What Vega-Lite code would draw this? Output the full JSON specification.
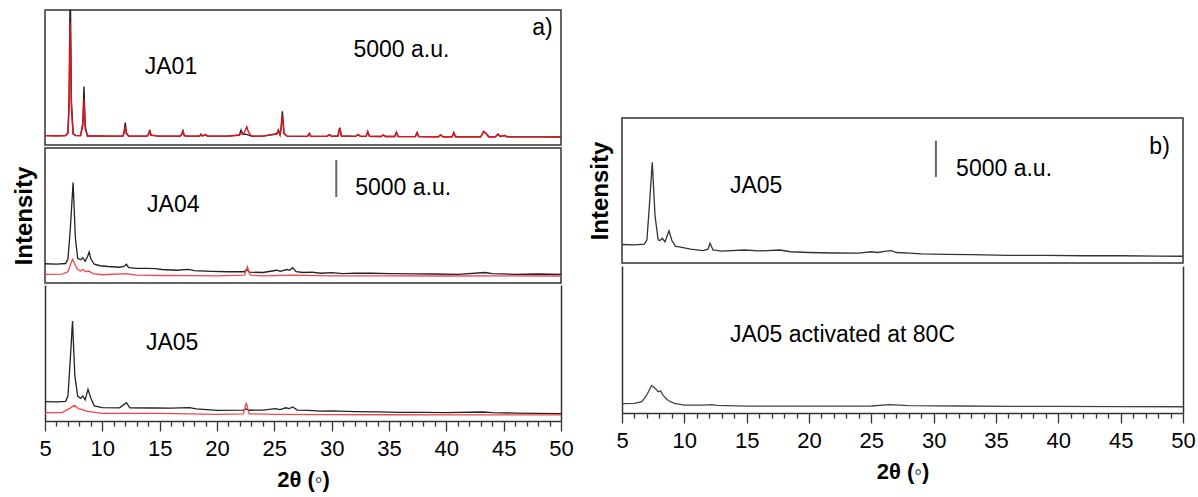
{
  "$schema": "https://vega.github.io/schema/vega-lite/v6.json",
  "padding": {"left": 11, "top": 9, "right": 5, "bottom": 5},
  "background": "white",
  "config": {
    "font": "Liberation Sans",
    "view": {"stroke": "#333", "strokeWidth": 1.5},
    "axis": {"grid": false, "domainColor": "#333", "domainWidth": 1.5, "tickColor": "#333", "tickWidth": 1.3, "labelFont": "Liberation Sans", "labelFontSize": 22, "labelColor": "#000", "titleFont": "Liberation Sans", "titleFontSize": 22, "titleFontWeight": "bold", "titleColor": "#000", "labelOverlap": false, "labelFlush": false},
    "text": {"font": "Liberation Sans", "fontSize": 23, "color": "#000", "align": "left", "baseline": "middle"}
  },
  "datasets": {
    "ja01exp": [
      {"x":5.0,"y":1250},{"x":6.0,"y":1230},{"x":6.8,"y":1250},{"x":7.0,"y":1600},{"x":7.1,"y":6000},{"x":7.2,"y":22000},{"x":7.3,"y":6000},{"x":7.45,"y":1500},{"x":7.7,"y":1250},{"x":8.1,"y":1250},{"x":8.3,"y":3000},{"x":8.4,"y":7800},{"x":8.5,"y":2500},{"x":8.7,"y":1200},{"x":9.5,"y":1200},{"x":10.5,"y":1180},{"x":11.8,"y":1200},{"x":11.9,"y":1800},{"x":12.0,"y":3000},{"x":12.1,"y":1600},{"x":12.3,"y":1180},{"x":13.9,"y":1180},{"x":14.05,"y":1500},{"x":14.13,"y":2000},{"x":14.25,"y":1300},{"x":14.6,"y":1250},{"x":14.8,"y":1180},{"x":16.8,"y":1180},{"x":16.95,"y":1500},{"x":17.03,"y":1900},{"x":17.15,"y":1250},{"x":17.4,"y":1180},{"x":18.5,"y":1200},{"x":18.6,"y":1450},{"x":18.75,"y":1200},{"x":19.0,"y":1400},{"x":19.15,"y":1200},{"x":21.0,"y":1180},{"x":21.95,"y":1350},{"x":22.1,"y":2000},{"x":22.25,"y":1400},{"x":22.5,"y":1450},{"x":22.7,"y":1350},{"x":23.0,"y":1180},{"x":24.0,"y":1180},{"x":25.2,"y":1500},{"x":25.35,"y":2000},{"x":25.5,"y":1300},{"x":25.6,"y":2500},{"x":25.7,"y":4500},{"x":25.85,"y":1500},{"x":26.1,"y":1180},{"x":27.9,"y":1150},{"x":28.05,"y":1550},{"x":28.2,"y":1150},{"x":29.6,"y":1150},{"x":29.8,"y":1380},{"x":30.0,"y":1150},{"x":30.55,"y":1200},{"x":30.7,"y":2300},{"x":30.85,"y":1200},{"x":32.1,"y":1150},{"x":32.3,"y":1400},{"x":32.5,"y":1150},{"x":33.0,"y":1150},{"x":33.15,"y":1800},{"x":33.3,"y":1150},{"x":34.3,"y":1130},{"x":34.5,"y":1330},{"x":34.7,"y":1130},{"x":35.5,"y":1130},{"x":35.65,"y":1700},{"x":35.8,"y":1130},{"x":37.3,"y":1120},{"x":37.45,"y":1650},{"x":37.6,"y":1120},{"x":39.3,"y":1100},{"x":39.5,"y":1350},{"x":39.7,"y":1100},{"x":40.5,"y":1100},{"x":40.65,"y":1650},{"x":40.8,"y":1100},{"x":43.0,"y":1100},{"x":43.25,"y":1800},{"x":43.45,"y":1550},{"x":43.7,"y":1100},{"x":44.3,"y":1100},{"x":44.5,"y":1450},{"x":44.7,"y":1150},{"x":45.1,"y":1280},{"x":45.3,"y":1080},{"x":47.0,"y":1080},{"x":48.5,"y":1080},{"x":50.0,"y":1070}
    ],
    "ja01sim": [
      {"x":5.0,"y":1250},{"x":6.0,"y":1230},{"x":6.8,"y":1250},{"x":7.0,"y":1600},{"x":7.1,"y":5000},{"x":7.2,"y":16400},{"x":7.3,"y":5000},{"x":7.45,"y":1500},{"x":7.7,"y":1250},{"x":8.1,"y":1250},{"x":8.3,"y":2600},{"x":8.4,"y":6100},{"x":8.5,"y":2200},{"x":8.7,"y":1200},{"x":9.5,"y":1200},{"x":10.5,"y":1180},{"x":11.8,"y":1200},{"x":11.9,"y":1600},{"x":12.0,"y":2440},{"x":12.1,"y":1500},{"x":12.3,"y":1180},{"x":13.9,"y":1180},{"x":14.05,"y":1450},{"x":14.13,"y":1800},{"x":14.25,"y":1300},{"x":14.6,"y":1250},{"x":14.8,"y":1180},{"x":16.8,"y":1180},{"x":16.95,"y":1450},{"x":17.03,"y":1800},{"x":17.15,"y":1250},{"x":17.4,"y":1180},{"x":18.5,"y":1200},{"x":18.6,"y":1400},{"x":18.75,"y":1200},{"x":19.0,"y":1380},{"x":19.15,"y":1200},{"x":21.0,"y":1180},{"x":21.95,"y":1300},{"x":22.1,"y":1600},{"x":22.3,"y":1500},{"x":22.45,"y":1900},{"x":22.6,"y":2440},{"x":22.75,"y":1700},{"x":23.0,"y":1180},{"x":24.0,"y":1180},{"x":25.2,"y":1450},{"x":25.35,"y":1900},{"x":25.5,"y":1300},{"x":25.6,"y":2300},{"x":25.7,"y":4000},{"x":25.85,"y":1500},{"x":26.1,"y":1180},{"x":27.9,"y":1150},{"x":28.05,"y":1500},{"x":28.2,"y":1150},{"x":29.6,"y":1150},{"x":29.8,"y":1350},{"x":30.0,"y":1150},{"x":30.55,"y":1200},{"x":30.7,"y":2250},{"x":30.85,"y":1200},{"x":32.1,"y":1150},{"x":32.3,"y":1380},{"x":32.5,"y":1150},{"x":33.0,"y":1150},{"x":33.15,"y":1780},{"x":33.3,"y":1150},{"x":34.3,"y":1130},{"x":34.5,"y":1320},{"x":34.7,"y":1130},{"x":35.5,"y":1130},{"x":35.65,"y":1680},{"x":35.8,"y":1130},{"x":37.3,"y":1120},{"x":37.45,"y":1640},{"x":37.6,"y":1120},{"x":39.3,"y":1100},{"x":39.5,"y":1340},{"x":39.7,"y":1100},{"x":40.5,"y":1100},{"x":40.65,"y":1640},{"x":40.8,"y":1100},{"x":43.0,"y":1100},{"x":43.25,"y":1780},{"x":43.45,"y":1550},{"x":43.7,"y":1100},{"x":44.3,"y":1100},{"x":44.5,"y":1440},{"x":44.7,"y":1150},{"x":45.1,"y":1270},{"x":45.3,"y":1080},{"x":47.0,"y":1080},{"x":48.5,"y":1080},{"x":50.0,"y":1070}
    ],
    "ja04exp": [
      {"x":5.0,"y":2570},{"x":6.0,"y":2530},{"x":6.8,"y":2600},{"x":7.0,"y":3200},{"x":7.2,"y":7000},{"x":7.45,"y":13400},{"x":7.65,"y":6000},{"x":7.85,"y":3300},{"x":8.1,"y":3100},{"x":8.3,"y":3370},{"x":8.5,"y":2900},{"x":8.7,"y":3500},{"x":8.85,"y":4130},{"x":9.0,"y":3200},{"x":9.3,"y":2500},{"x":9.8,"y":2300},{"x":10.5,"y":2200},{"x":11.5,"y":2100},{"x":11.9,"y":2200},{"x":12.1,"y":2490},{"x":12.3,"y":2050},{"x":13.0,"y":1950},{"x":14.0,"y":1950},{"x":14.6,"y":1910},{"x":15.2,"y":1800},{"x":16.5,"y":1700},{"x":17.5,"y":1820},{"x":18.0,"y":1650},{"x":19.5,"y":1550},{"x":21.0,"y":1500},{"x":22.4,"y":1500},{"x":22.6,"y":1850},{"x":22.8,"y":1450},{"x":24.0,"y":1400},{"x":25.2,"y":1700},{"x":25.5,"y":1550},{"x":26.1,"y":1800},{"x":26.3,"y":1700},{"x":26.6,"y":2040},{"x":26.9,"y":1500},{"x":27.5,"y":1400},{"x":28.3,"y":1450},{"x":29.0,"y":1300},{"x":30.0,"y":1380},{"x":31.0,"y":1250},{"x":32.0,"y":1320},{"x":33.5,"y":1300},{"x":35.0,"y":1250},{"x":37.0,"y":1220},{"x":39.0,"y":1200},{"x":41.0,"y":1150},{"x":43.4,"y":1400},{"x":44.0,"y":1250},{"x":46.0,"y":1150},{"x":48.0,"y":1200},{"x":50.0,"y":1150}
    ],
    "ja04sim": [
      {"x":5.0,"y":1160},{"x":6.5,"y":1180},{"x":7.0,"y":1500},{"x":7.4,"y":3160},{"x":7.8,"y":1900},{"x":8.1,"y":1600},{"x":8.3,"y":1830},{"x":8.55,"y":1500},{"x":8.8,"y":1600},{"x":9.2,"y":1250},{"x":10.0,"y":1100},{"x":12.1,"y":1250},{"x":13.0,"y":1050},{"x":15.0,"y":1000},{"x":18.0,"y":980},{"x":20.0,"y":950},{"x":22.4,"y":1050},{"x":22.65,"y":2170},{"x":22.9,"y":1050},{"x":24.0,"y":950},{"x":26.5,"y":1050},{"x":30.0,"y":950},{"x":35.0,"y":950},{"x":40.0,"y":930},{"x":45.0,"y":950},{"x":50.0,"y":930}
    ],
    "ja05exp": [
      {"x":5.0,"y":2560},{"x":6.0,"y":2520},{"x":6.8,"y":2600},{"x":7.0,"y":3300},{"x":7.2,"y":8000},{"x":7.4,"y":13240},{"x":7.6,"y":6000},{"x":7.85,"y":3300},{"x":8.1,"y":3000},{"x":8.3,"y":3310},{"x":8.5,"y":2800},{"x":8.75,"y":4190},{"x":9.0,"y":3000},{"x":9.3,"y":2000},{"x":10.0,"y":1760},{"x":11.5,"y":1750},{"x":12.1,"y":2420},{"x":12.4,"y":1750},{"x":14.5,"y":1720},{"x":16.0,"y":1700},{"x":17.6,"y":1760},{"x":18.2,"y":1600},{"x":20.0,"y":1410},{"x":22.3,"y":1450},{"x":22.55,"y":1600},{"x":22.8,"y":1420},{"x":24.0,"y":1450},{"x":25.1,"y":1630},{"x":25.5,"y":1500},{"x":26.0,"y":1750},{"x":26.3,"y":1650},{"x":26.6,"y":1850},{"x":27.0,"y":1450},{"x":28.0,"y":1410},{"x":29.0,"y":1300},{"x":30.0,"y":1350},{"x":32.0,"y":1250},{"x":34.0,"y":1200},{"x":36.0,"y":1150},{"x":38.0,"y":1150},{"x":40.0,"y":1100},{"x":43.2,"y":1190},{"x":44.0,"y":1100},{"x":46.0,"y":1050},{"x":50.0,"y":970}
    ],
    "ja05sim": [
      {"x":5.0,"y":1100},{"x":6.5,"y":1120},{"x":7.2,"y":1700},{"x":7.56,"y":2080},{"x":7.9,"y":1650},{"x":8.2,"y":1550},{"x":8.6,"y":1300},{"x":9.5,"y":1100},{"x":10.0,"y":1020},{"x":15.0,"y":1000},{"x":20.0,"y":890},{"x":22.3,"y":950},{"x":22.55,"y":2420},{"x":22.8,"y":950},{"x":25.0,"y":880},{"x":30.0,"y":850},{"x":35.0,"y":830},{"x":40.0,"y":820},{"x":45.0,"y":810},{"x":50.0,"y":800}
    ],
    "b05": [
      {"x":5.0,"y":2550},{"x":6.0,"y":2500},{"x":6.8,"y":2600},{"x":7.0,"y":3200},{"x":7.2,"y":8000},{"x":7.43,"y":13900},{"x":7.65,"y":6500},{"x":7.9,"y":3200},{"x":8.05,"y":3100},{"x":8.23,"y":3400},{"x":8.45,"y":2900},{"x":8.77,"y":4430},{"x":9.0,"y":3100},{"x":9.3,"y":2300},{"x":9.6,"y":2210},{"x":10.5,"y":1900},{"x":11.5,"y":1700},{"x":11.9,"y":1900},{"x":12.06,"y":2720},{"x":12.3,"y":1800},{"x":13.0,"y":1650},{"x":14.8,"y":1790},{"x":16.0,"y":1660},{"x":17.67,"y":1790},{"x":18.5,"y":1550},{"x":20.0,"y":1450},{"x":22.0,"y":1380},{"x":24.0,"y":1360},{"x":25.0,"y":1550},{"x":25.5,"y":1450},{"x":26.2,"y":1650},{"x":26.6,"y":1700},{"x":27.0,"y":1450},{"x":28.1,"y":1360},{"x":29.0,"y":1250},{"x":31.0,"y":1200},{"x":33.0,"y":1150},{"x":36.0,"y":1050},{"x":39.0,"y":1050},{"x":42.0,"y":1000},{"x":45.0,"y":1000},{"x":48.0,"y":950},{"x":50.0,"y":930}
    ],
    "b05act": [
      {"x":5.0,"y":1280},{"x":6.0,"y":1300},{"x":6.6,"y":1550},{"x":7.0,"y":2500},{"x":7.38,"y":3740},{"x":7.7,"y":3300},{"x":7.9,"y":2900},{"x":8.1,"y":2980},{"x":8.3,"y":2400},{"x":8.7,"y":1700},{"x":9.2,"y":1300},{"x":10.0,"y":1060},{"x":11.5,"y":1060},{"x":12.2,"y":1150},{"x":12.6,"y":1040},{"x":15.0,"y":930},{"x":20.0,"y":930},{"x":25.0,"y":950},{"x":26.5,"y":1150},{"x":28.0,"y":1000},{"x":32.0,"y":950},{"x":36.0,"y":900},{"x":40.0,"y":900},{"x":45.0,"y":870},{"x":50.0,"y":850}
    ]
  },
  "spacing": 13,
  "hconcat": [
    {
      "spacing": 1,
      "vconcat": [
        {
          "width": 516, "height": 135,
          "layer": [
            {"data": {"name": "ja01exp"}, "mark": {"type": "line", "clip": true, "color": "#222", "strokeWidth": 1.4},
             "encoding": {"x": {"field": "x", "type": "quantitative", "scale": {"domain": [5, 50]}, "axis": null},
                          "y": {"field": "y", "type": "quantitative", "scale": {"domain": [0, 18000]}, "axis": null}}},
            {"data": {"name": "ja01sim"}, "mark": {"type": "line", "clip": true, "color": "#e3121b", "strokeWidth": 1.4},
             "encoding": {"x": {"field": "x", "type": "quantitative"}, "y": {"field": "y", "type": "quantitative"}}},
            {"data": {"values": [{"x": 13.7, "y": 10400, "t": "JA01"}, {"x": 31.9, "y": 12650, "t": "5000 a.u."}, {"x": 47.5, "y": 15600, "t": "a)"}]},
             "mark": {"type": "text"},
             "encoding": {"x": {"field": "x", "type": "quantitative"}, "y": {"field": "y", "type": "quantitative"}, "text": {"field": "t"}}}
          ]
        },
        {
          "width": 516, "height": 135,
          "layer": [
            {"data": {"name": "ja04exp"}, "mark": {"type": "line", "clip": true, "color": "#222", "strokeWidth": 1.3},
             "encoding": {"x": {"field": "x", "type": "quantitative", "scale": {"domain": [5, 50]}, "axis": null},
                          "y": {"field": "y", "type": "quantitative", "scale": {"domain": [0, 18000]},
                                "axis": {"title": "Intensity", "titleFontSize": 24, "ticks": false, "labels": false, "domain": false, "titlePadding": 9}}}},
            {"data": {"name": "ja04sim"}, "mark": {"type": "line", "clip": true, "color": "#f2464c", "strokeWidth": 1.3},
             "encoding": {"x": {"field": "x", "type": "quantitative"}, "y": {"field": "y", "type": "quantitative"}}},
            {"data": {"values": [{"x": 30.4, "y": 11470, "y2": 16400}]},
             "mark": {"type": "rule", "color": "#666", "strokeWidth": 2},
             "encoding": {"x": {"field": "x", "type": "quantitative"}, "y": {"field": "y", "type": "quantitative"}, "y2": {"field": "y2"}}},
            {"data": {"values": [{"x": 13.9, "y": 10400, "t": "JA04"}, {"x": 32.05, "y": 12650, "t": "5000 a.u."}]},
             "mark": {"type": "text"},
             "encoding": {"x": {"field": "x", "type": "quantitative"}, "y": {"field": "y", "type": "quantitative"}, "text": {"field": "t"}}}
          ]
        },
        {
          "width": 516, "height": 136,
          "view": {"stroke": null},
          "resolve": {"axis": {"y": "independent", "x": "independent"}},
          "layer": [
            {"data": {"name": "ja05exp"}, "mark": {"type": "line", "clip": true, "color": "#222", "strokeWidth": 1.3},
             "encoding": {"x": {"field": "x", "type": "quantitative", "scale": {"domain": [5, 50]},
                                "axis": {"orient": "bottom", "values": [5,10,15,20,25,30,35,40,45,50], "tickSize": 10, "labelPadding": 7,
                                         "title": "2θ (◦)", "titlePadding": 10}},
                          "y": {"field": "y", "type": "quantitative", "scale": {"domain": [0, 18000]},
                                "axis": {"orient": "left", "title": null, "ticks": false, "labels": false}}}},
            {"data": {"name": "ja05sim"}, "mark": {"type": "line", "clip": true, "color": "#f2464c", "strokeWidth": 1.3},
             "encoding": {"x": {"field": "x", "type": "quantitative",
                                "axis": {"orient": "bottom", "values": [6,7,8,9,11,12,13,14,16,17,18,19,21,22,23,24,26,27,28,29,31,32,33,34,36,37,38,39,41,42,43,44,46,47,48,49], "tickSize": 5, "labels": false, "domain": false, "title": null}},
                          "y": {"field": "y", "type": "quantitative", "axis": {"orient": "right", "title": null, "ticks": false, "labels": false}}}},
            {"data": {"values": [{"x": 13.8, "y": 10300, "t": "JA05"}]},
             "mark": {"type": "text"},
             "encoding": {"x": {"field": "x", "type": "quantitative", "axis": null}, "y": {"field": "y", "type": "quantitative", "axis": null}, "text": {"field": "t"}}}
          ]
        }
      ]
    },
    {
      "spacing": 2,
      "vconcat": [
        {
          "width": 561, "height": 105,
          "view": {"stroke": null},
          "data": {"values": []},
          "mark": {"type": "text"},
          "encoding": {}
        },
        {
          "width": 561, "height": 145,
          "layer": [
            {"data": {"name": "b05"}, "mark": {"type": "line", "clip": true, "color": "#333", "strokeWidth": 1.3},
             "encoding": {"x": {"field": "x", "type": "quantitative", "scale": {"domain": [5, 50]}, "axis": null},
                          "y": {"field": "y", "type": "quantitative", "scale": {"domain": [0, 18500]},
                                "axis": {"title": "Intensity", "titleFontSize": 24, "ticks": false, "labels": false, "domain": false, "titlePadding": 10}}}},
            {"data": {"values": [{"x": 30.18, "y": 11870, "y2": 16880}]},
             "mark": {"type": "rule", "color": "#666", "strokeWidth": 2},
             "encoding": {"x": {"field": "x", "type": "quantitative"}, "y": {"field": "y", "type": "quantitative"}, "y2": {"field": "y2"}}},
            {"data": {"values": [{"x": 13.66, "y": 10600, "t": "JA05"}, {"x": 31.8, "y": 13000, "t": "5000 a.u."}, {"x": 47.3, "y": 15950, "t": "b)"}]},
             "mark": {"type": "text"},
             "encoding": {"x": {"field": "x", "type": "quantitative"}, "y": {"field": "y", "type": "quantitative"}, "text": {"field": "t"}}}
          ]
        },
        {
          "width": 561, "height": 147,
          "view": {"stroke": null},
          "resolve": {"axis": {"y": "independent", "x": "independent"}},
          "layer": [
            {"data": {"name": "b05act"}, "mark": {"type": "line", "clip": true, "color": "#444", "strokeWidth": 1.3},
             "encoding": {"x": {"field": "x", "type": "quantitative", "scale": {"domain": [5, 50]},
                                "axis": {"orient": "bottom", "values": [5,10,15,20,25,30,35,40,45,50], "tickSize": 10, "labelPadding": 7,
                                         "title": "2θ (◦)", "titlePadding": 10}},
                          "y": {"field": "y", "type": "quantitative", "scale": {"domain": [0, 18750]},
                                "axis": {"orient": "left", "title": null, "ticks": false, "labels": false}}}},
            {"data": {"values": [{"x": 13.66, "y": 10650, "t": "JA05 activated at 80C"}]},
             "mark": {"type": "text"},
             "encoding": {"x": {"field": "x", "type": "quantitative",
                                "axis": {"orient": "bottom", "values": [6,7,8,9,11,12,13,14,16,17,18,19,21,22,23,24,26,27,28,29,31,32,33,34,36,37,38,39,41,42,43,44,46,47,48,49], "tickSize": 5, "labels": false, "domain": false, "title": null}},
                          "y": {"field": "y", "type": "quantitative", "axis": {"orient": "right", "title": null, "ticks": false, "labels": false}}, "text": {"field": "t"}}}
          ]
        }
      ]
    }
  ]
}
